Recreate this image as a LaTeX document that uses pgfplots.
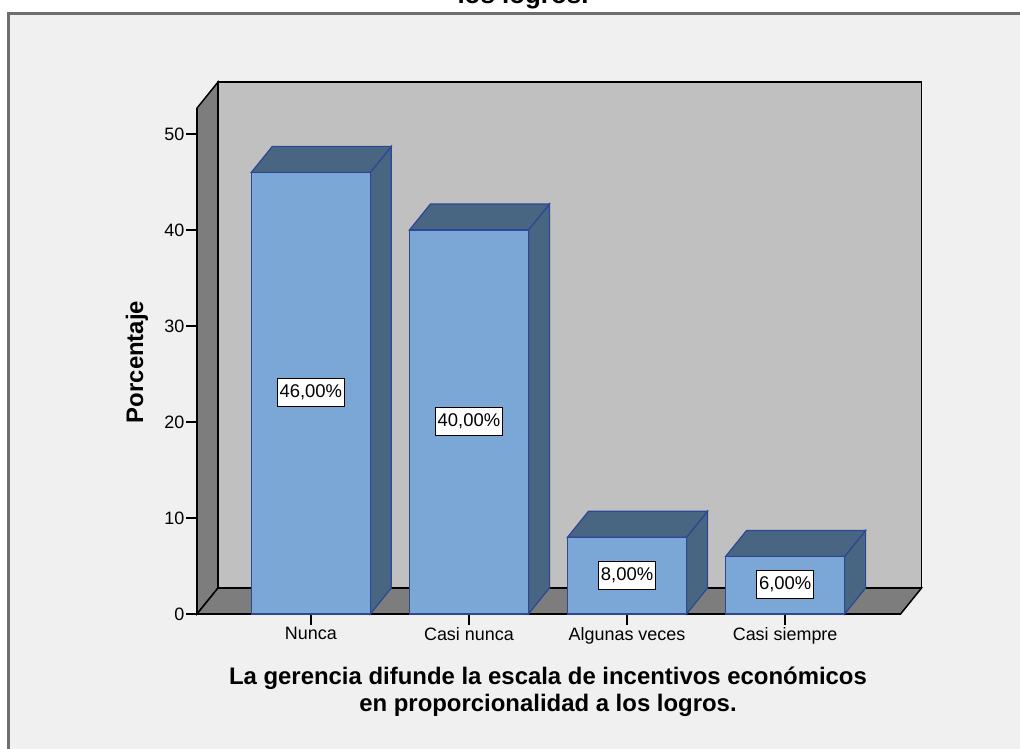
\documentclass[border=0pt]{standalone}
\usepackage{pgfplots}
\pgfplotsset{compat=1.18}
\usepackage{pgfplotstable}
\usepackage{fontspec}
\setmainfont{Liberation Sans}
\definecolor{front}{RGB}{122,167,214}
\definecolor{dark}{RGB}{72,102,130}
\definecolor{edge}{RGB}{45,70,150}
\definecolor{backwall}{RGB}{192,192,192}
\definecolor{sidewall}{RGB}{125,125,125}
\definecolor{bgc}{RGB}{240,240,240}
\definecolor{framec}{RGB}{110,110,110}
\pgfplotstableread{
x y
0 46
1 40
2 8
3 6
}\datatable
\begin{document}
\begin{tikzpicture}
\path[use as bounding box] (0,0) rectangle (1020bp,749bp);
\clip (0,0) rectangle (1020bp,749bp);
\fill[white] (0,0) rectangle (1020bp,749bp);
\fill[bgc] (8.5bp,-5bp) rectangle (1030bp,735bp);
\draw[framec, line width=3bp] (8.5bp,-5bp) -- (8.5bp,735bp) -- (1030bp,735bp);
\node[font=\bfseries\fontsize{26}{28}\selectfont, anchor=base] at (523bp,745.5bp) {los logros.};
\begin{axis}[
  at={(197bp,135bp)}, anchor=south west,
  x=158.1bp, y=9.6bp,
  xmin=-0.72, xmax=3.73, ymin=0, ymax=52.7,
  clip=false,
  axis x line*=bottom, axis y line*=left,
  axis line style={black, line width=1.5bp},
  tick align=outside, major tick length=11bp,
  tick style={black, line width=1.5bp},
  xtick={0,1,2,3},
  xticklabels={Nunca, Casi nunca, Algunas veces, Casi siempre},
  ytick={0,10,20,30,40,50},
  /pgf/number format/assume math mode=true,
  ticklabel style={font=\fontsize{18}{20}\selectfont, text=black},
  yticklabel style={inner sep=1.5bp},
  xticklabel style={inner sep=2bp},
  ylabel={Porcentaje},
  every axis y label/.style={at={(axis cs:-1.10,26.25)}, rotate=90, anchor=center, font=\bfseries\fontsize{24}{26}\selectfont},
  xlabel={La gerencia difunde la escala de incentivos económicos\\en proporcionalidad a los logros.},
  every axis x label/.style={at={(axis cs:1.5,-8.1)}, anchor=center, align=center, font=\bfseries\fontsize{24}{27}\selectfont},
]
% walls
\addplot[fill=backwall, draw=black, line width=1.5bp, mark=none] coordinates {(-0.5872,2.708) (3.863,2.708) (3.863,55.408) (-0.5872,55.408)} -- cycle;
\addplot[fill=sidewall, draw=black, line width=1.5bp, mark=none] coordinates {(-0.72,0) (-0.72,52.7) (-0.5872,55.408) (-0.5872,2.708)} -- cycle;
\addplot[fill=sidewall, draw=black, line width=1.5bp, mark=none] coordinates {(-0.72,0) (-0.5872,2.708) (3.863,2.708) (3.73,0)} -- cycle;
% bar sides and tops
\addplot[fill=dark, draw=edge, line width=1.2bp, mark=none] coordinates {(0.3763,0) (0.5091,2.708) (0.5091,48.708) (0.3763,46)} -- cycle;
\addplot[fill=dark, draw=edge, line width=1.2bp, mark=none] coordinates {(-0.3763,46) (0.3763,46) (0.5091,48.708) (-0.2435,48.708)} -- cycle;
\addplot[fill=dark, draw=edge, line width=1.2bp, mark=none] coordinates {(1.3763,0) (1.5091,2.708) (1.5091,42.708) (1.3763,40)} -- cycle;
\addplot[fill=dark, draw=edge, line width=1.2bp, mark=none] coordinates {(0.6237,40) (1.3763,40) (1.5091,42.708) (0.7565,42.708)} -- cycle;
\addplot[fill=dark, draw=edge, line width=1.2bp, mark=none] coordinates {(2.3763,0) (2.5091,2.708) (2.5091,10.708) (2.3763,8)} -- cycle;
\addplot[fill=dark, draw=edge, line width=1.2bp, mark=none] coordinates {(1.6237,8) (2.3763,8) (2.5091,10.708) (1.7565,10.708)} -- cycle;
\addplot[fill=dark, draw=edge, line width=1.2bp, mark=none] coordinates {(3.3763,0) (3.5091,2.708) (3.5091,8.708) (3.3763,6)} -- cycle;
\addplot[fill=dark, draw=edge, line width=1.2bp, mark=none] coordinates {(2.6237,6) (3.3763,6) (3.5091,8.708) (2.7565,8.708)} -- cycle;
% front faces
\addplot[ybar, bar width=119bp, fill=front, draw=edge, line width=1.2bp,
  point meta=y,
  visualization depends on={y \as \rawy},
  nodes near coords={\pgfmathprintnumber[fixed,fixed zerofill,precision=2,use comma]{\pgfplotspointmeta}\%},
  every node near coord/.append style={font=\fontsize{18.5}{20}\selectfont, text=black, fill=white, draw=black, line width=1bp, inner xsep=2.5bp, inner ysep=2bp, minimum height=28bp, shift={(axis direction cs:0,-\rawy/2)}, yshift=-14bp},
] table[x=x, y=y] {\datatable};
\end{axis}
\end{tikzpicture}
\end{document}
